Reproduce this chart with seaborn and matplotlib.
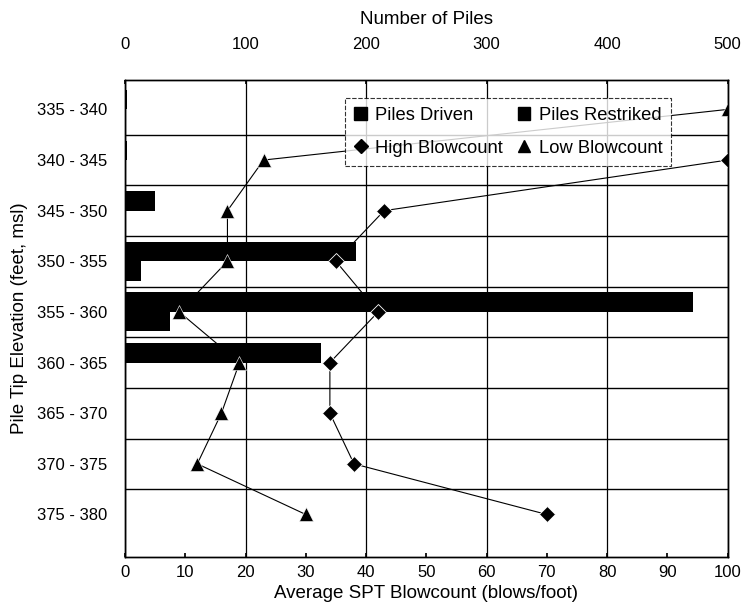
import numpy as np
import pandas as pd
import matplotlib
matplotlib.use("Agg")
import matplotlib.pyplot as plt
from matplotlib.lines import Line2D
from matplotlib.patches import Patch
import seaborn as sns

categories = ["335 - 340", "340 - 345", "345 - 350", "350 - 355", "355 - 360",
              "360 - 365", "365 - 370", "370 - 375", "375 - 380"]
piles_driven = [2, 2, 25, 192, 471, 163, 0, 0, 0]
piles_restriked = [0, 0, 0, 13, 37, 0, 0, 0, 0]
high_blowcount = [np.nan, 100, 43, 35, 42, 34, 34, 38, 70]
low_blowcount = [100, 23, 17, 17, 9, 19, 16, 12, 30]
piles_ticks = [0, 100, 200, 300, 400, 500]
spt_ticks = [0, 10, 20, 30, 40, 50, 60, 70, 80, 90, 100]

sns.set_theme(style="white")
plt.rcParams["font.family"] = ["Liberation Sans", "DejaVu Sans"]
for k in ("text.color", "axes.labelcolor", "xtick.color", "ytick.color"):
    plt.rcParams[k] = "black"

TICK = 12
LABEL = 13.5

bars = pd.DataFrame({
    "Elevation": categories * 2,
    "Series": ["Piles Driven"] * len(categories) + ["Piles Restriked"] * len(categories),
    "Piles": piles_driven + piles_restriked,
})
pos = np.arange(len(categories))
lines = pd.DataFrame({"pos": pos, "high": high_blowcount, "low": low_blowcount})

YLIM = (8.84, -0.587)

fig = plt.figure(figsize=(7.44, 6.05), dpi=100)
ax = fig.add_axes([0.168, 0.0793, 0.810, 0.789])

sns.barplot(data=bars, y="Elevation", x="Piles", hue="Series", orient="h",
            order=categories, palette=["black", "black"], width=0.77,
            dodge=True, ax=ax, legend=False, linewidth=0, saturation=1)
ax.set_xlim(0, 500)

ax2 = ax.twiny()

# blowcount series on the bottom axis
sub = lines.dropna(subset=["high"])
sns.lineplot(data=sub, x="high", y="pos", sort=False, estimator=None, ax=ax2,
             color="black", linewidth=0.8, marker="D", markersize=8,
             markerfacecolor="black", markeredgecolor="white", markeredgewidth=0.6)
sns.lineplot(data=lines, x="low", y="pos", sort=False, estimator=None, ax=ax2,
             color="black", linewidth=0.8, marker="^", markersize=10,
             markerfacecolor="black", markeredgecolor="white", markeredgewidth=0.4)
ax2.set_xlim(0, 100)
ax2.xaxis.set_ticks_position("bottom")
ax2.xaxis.set_label_position("bottom")
ax2.set_xticks(spt_ticks)
ax2.set_xlabel("Average SPT Blowcount (blows/foot)", fontsize=LABEL, labelpad=3)
ax2.set_ylabel("")
ax2.tick_params(axis="x", length=3, color="black", labelsize=TICK, direction="in",
                pad=6, top=False, bottom=True, labeltop=False, labelbottom=True)

# bars axis: number of piles on top
ax.xaxis.set_ticks_position("top")
ax.xaxis.set_label_position("top")
ax.set_xticks(piles_ticks)
ax.set_xlabel("Number of Piles", fontsize=LABEL, labelpad=9)
ax.set_ylabel("Pile Tip Elevation (feet, msl)", fontsize=LABEL, labelpad=6)
ax.set_ylim(*YLIM)
ax.set_yticks(pos)
ax.set_yticklabels(categories, fontsize=TICK)
ax.set_yticks(np.arange(0.5, 8, 1), minor=True)
ax.tick_params(axis="y", which="minor", length=0)
ax.tick_params(axis="x", which="major", length=3, color="black", labelsize=TICK,
               direction="in", pad=20, top=True, bottom=False,
               labeltop=True, labelbottom=False)
ax.tick_params(axis="y", which="major", length=0, pad=13, left=True,
               labelleft=True)
ax.grid(which="minor", axis="y", color="black", linewidth=1.0)
ax.grid(which="major", axis="x", color="black", linewidth=0.9)
ax.set_axisbelow(True)

for a in (ax, ax2):
    for s in a.spines.values():
        s.set_color("black")
        s.set_linewidth(1.0)

handles = [
    Patch(facecolor="black", edgecolor="black"),
    Line2D([], [], color="black", marker="D", linestyle="none", markersize=7),
    Patch(facecolor="black", edgecolor="black"),
    Line2D([], [], color="black", marker="^", linestyle="none", markersize=8),
]
labels = ["Piles Driven", "High Blowcount", "Piles Restriked", "Low Blowcount"]
leg = ax2.legend(handles, labels, ncol=2, loc="upper left",
                 bbox_to_anchor=(0.365, 0.962), frameon=True, fancybox=False,
                 fontsize=13.2, handlelength=0.7, handletextpad=0.45,
                 columnspacing=0.8, borderpad=0.5, labelspacing=0.85,
                 borderaxespad=0)
leg.get_frame().set_edgecolor("black")
leg.get_frame().set_linewidth(0.8)
leg.get_frame().set_linestyle((0, (4, 1.5)))

fig.savefig("out.png", dpi=100)
